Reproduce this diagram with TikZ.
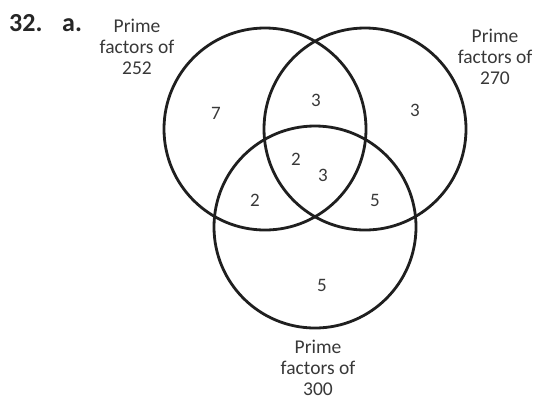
\documentclass[tikz,border=0pt]{standalone}
\usepackage{fontspec}
\setmainfont{Carlito}
\begin{document}
\begin{tikzpicture}[x=1pt,y=-1pt,
  venn/.style={circle,draw=black!88,line width=2.8pt,minimum size=202pt,inner sep=0pt},
  lbl/.style={align=center,inner sep=0pt,text=black!78,font=\fontsize{19.5}{21}\selectfont},
  num/.style={inner sep=0pt,text=black!78,font=\fontsize{19}{21}\selectfont}]
\useasboundingbox (0,0) rectangle (537,400);
\node[venn] (A) at (265,129) {};
\node[venn] (B) at (365,129) {};
\node[venn] (C) at (315,227) {};
\node[anchor=base west,inner sep=0pt,font=\fontsize{26}{28}\bfseries,text=black!85] (q) at (9,31) {32.};
\node[anchor=base west,inner sep=0pt,font=\fontsize{26}{28}\bfseries,text=black!85] (qa) at (62,31) {a.};
\node[lbl] (LA) at (137,47) {Prime\\factors of\\252};
\node[lbl] (LB) at (495,57) {Prime\\factors of\\270};
\node[lbl] (LC) at (318,368) {Prime\\factors of\\300};
\node[num] (n1) at (216,113) {7};
\node[num] (n2) at (316,100) {3};
\node[num] (n3) at (415,110) {3};
\node[num] (n4) at (296,159) {2};
\node[num] (n5) at (323,175) {3};
\node[num] (n6) at (255,200) {2};
\node[num] (n7) at (375,200) {5};
\node[num] (n8) at (322,285) {5};
\end{tikzpicture}
\end{document}
